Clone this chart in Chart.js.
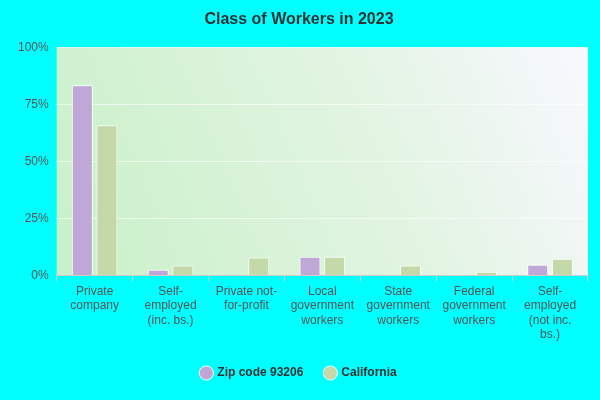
<!DOCTYPE html>
<html>
<head>
<script src="https://cdn.jsdelivr.net/npm/chart.js@4"></script>
<style>
body{margin:0;background:#00ffff;}
#wrap{width:600px;height:400px;}
</style>
</head>
<body>
<div id="wrap"><canvas id="chart"></canvas></div>
<script>
var categories = [["Private","company"],["Self-","employed","(inc. bs.)"],["Private not-","for-profit"],["Local","government","workers"],["State","government","workers"],["Federal","government","workers"],["Self-","employed","(not inc.","bs.)"]];
var zipValues = [83.3, 2.5, 0.3, 8.2, 0, 0, 4.7];
var caValues = [65.8, 4.3, 7.8, 8.2, 4.3, 1.6, 7.3];
var tickLabels = ["0%","25%","50%","75%","100%"];

// plot background gradient
var bgPlugin = {
    id: "bg",
    beforeDraw: function (chart) {
        var a = chart.chartArea, ctx = chart.ctx;
        var g = ctx.createLinearGradient(a.left, a.bottom, a.right, a.top);
        g.addColorStop(0, "#c8f0c8");
        g.addColorStop(0.6, "#e2f4e2");
        g.addColorStop(1, "#f8f8ff");
        ctx.save();
        ctx.fillStyle = g;
        ctx.fillRect(a.left, a.top, a.right - a.left, a.bottom - a.top);
        ctx.restore();
    }
};

new Chart(document.getElementById("chart").getContext("2d"), {
    type: "bar",
    data: {
        labels: categories,
        datasets: [{
            label: "Zip code 93206",
            data: zipValues,
            backgroundColor: "#bfa8d8",
            borderColor: "#ffffff",
            borderWidth: 1,
            categoryPercentage: 0.65,
            barPercentage: 0.85
        }, {
            label: "California",
            data: caValues,
            backgroundColor: "#c5d9a8",
            borderColor: "#ffffff",
            borderWidth: 1,
            categoryPercentage: 0.65,
            barPercentage: 0.85
        }]
    },
    options: {
        responsive: true,
        maintainAspectRatio: false,
        animation: false,
        layout: { padding: { left: 10, right: 12, top: 0, bottom: 11 } },
        plugins: {
            title: {
                display: true,
                text: "Class of Workers in 2023",
                color: "#333333",
                font: { family: "Arial, Liberation Sans", size: 16, weight: "bold" },
                padding: { top: 10, bottom: 18 }
            },
            legend: {
                position: "bottom",
                labels: {
                    usePointStyle: true,
                    pointStyle: "circle",
                    boxWidth: 10,
                    boxHeight: 10,
                    padding: 22,
                    color: "#333333",
                    font: { family: "Arial, Liberation Sans", size: 12, weight: "bold" }
                }
            }
        },
        scales: {
            x: {
                grid: { display: true, drawOnChartArea: false, color: "#cccccc", tickLength: 6 },
                border: { color: "#cccccc" },
                ticks: {
                    color: "#555555",
                    maxRotation: 0,
                    font: { family: "Arial, Liberation Sans", size: 12 }
                }
            },
            y: {
                min: 0,
                max: 100,
                grid: { color: "rgba(255,255,255,0.6)", drawTicks: false },
                border: { display: false },
                ticks: {
                    stepSize: 25,
                    padding: 8,
                    color: "#555555",
                    font: { family: "Arial, Liberation Sans", size: 12 },
                    callback: function (v) { return tickLabels[v / 25]; }
                }
            }
        }
    },
    plugins: [bgPlugin]
});
</script>
</body>
</html>
